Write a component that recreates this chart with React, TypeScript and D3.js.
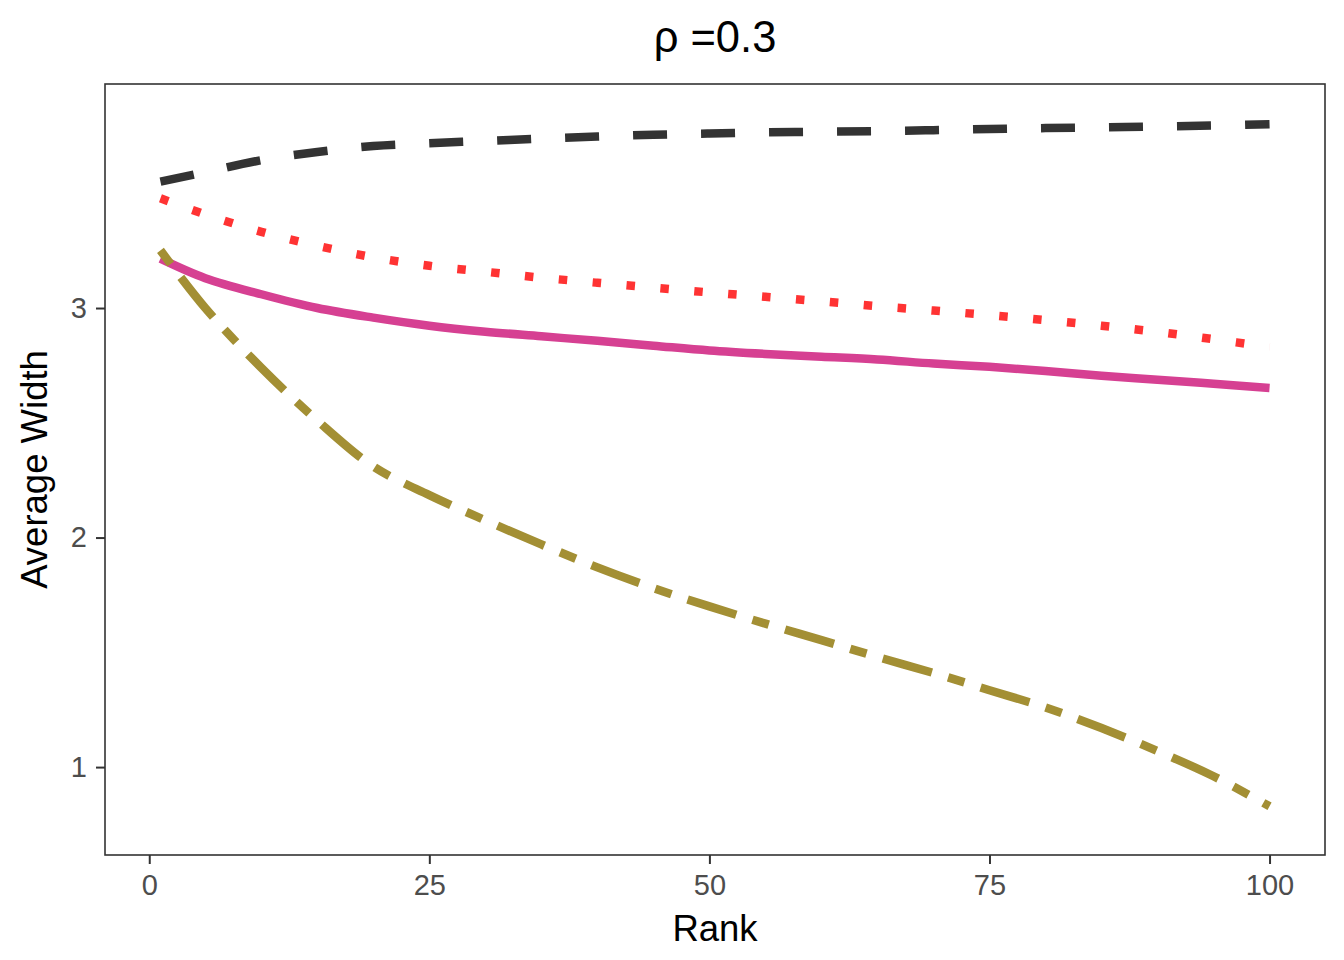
import React, { useEffect, useRef } from 'react';
import * as d3 from 'd3';

// Rank positions at which the curves were read
const ranks = [1, 5, 10, 15, 20, 25, 30, 35, 40, 45, 50, 55, 60, 65, 70, 75, 80, 85, 90, 95, 100];

const blackDashed = [3.551, 3.592, 3.644, 3.68, 3.706, 3.718, 3.728, 3.738, 3.747, 3.755, 3.76, 3.765, 3.768, 3.771, 3.775, 3.78, 3.784, 3.787, 3.791, 3.795, 3.801];
const redDotted = [3.478, 3.408, 3.332, 3.271, 3.221, 3.184, 3.158, 3.132, 3.11, 3.089, 3.068, 3.049, 3.029, 3.008, 2.989, 2.969, 2.947, 2.923, 2.896, 2.864, 2.83];
const magentaSolid = [3.215, 3.13, 3.06, 3.0, 2.958, 2.923, 2.897, 2.877, 2.857, 2.836, 2.815, 2.8, 2.788, 2.776, 2.758, 2.744, 2.726, 2.705, 2.688, 2.67, 2.652];
const oliveTwodash = [3.251, 3.0, 2.74, 2.51, 2.31, 2.185, 2.075, 1.97, 1.87, 1.78, 1.7, 1.625, 1.553, 1.48, 1.41, 1.335, 1.26, 1.17, 1.07, 0.96, 0.829];

const xTicks = [0, 25, 50, 75, 100];
const yTicks = [1, 2, 3];

const series = [
  { name: 'black', values: blackDashed, color: '#333333', dash: '34,34' },
  { name: 'red', values: redDotted, color: '#FF3333', dash: '8.5,25.5' },
  { name: 'magenta', values: magentaSolid, color: '#D64092', dash: null },
  { name: 'olive', values: oliveTwodash, color: '#A38F34', dash: '17,17,51,17' },
];

export default function App() {
  const svgRef = useRef<SVGSVGElement>(null);

  useEffect(() => {
    if (!svgRef.current) return;
    const svg = d3.select(svgRef.current);
    svg.selectAll('*').remove();

    const W = 1344;
    const H = 960;
    const margin = { top: 84, right: 19, bottom: 105, left: 105 };
    const width = W - margin.left - margin.right;
    const height = H - margin.top - margin.bottom;
    const font = '"Liberation Sans", Arial, Helvetica, sans-serif';

    svg.attr('width', W).attr('height', H);
    svg.append('rect').attr('width', W).attr('height', H).attr('fill', '#fff');

    const g = svg.append('g').attr('transform', `translate(${margin.left},${margin.top})`);

    const x = d3.scaleLinear().domain([-3.95, 104.95]).range([0, width]);
    const y = d3.scaleLinear().domain([0.617, 3.976]).range([height, 0]);

    // lines
    const line = d3
      .line<number>()
      .x((_, i) => x(ranks[i]))
      .y((d) => y(d))
      .curve(d3.curveCatmullRom.alpha(0.5));

    series.forEach((s) => {
      g.append('path')
        .datum(s.values)
        .attr('fill', 'none')
        .attr('stroke', s.color)
        .attr('stroke-width', 8.5)
        .attr('stroke-dasharray', s.dash)
        .attr('d', line);
    });

    // panel border
    g.append('rect')
      .attr('width', width)
      .attr('height', height)
      .attr('fill', 'none')
      .attr('stroke', '#333333')
      .attr('stroke-width', 1.6);

    // x axis
    const xAxis = g
      .append('g')
      .attr('transform', `translate(0,${height})`)
      .call(d3.axisBottom(x).tickValues(xTicks).tickSize(9).tickPadding(10).tickFormat(d3.format('d')));
    xAxis.select('.domain').remove();
    xAxis.selectAll('line').attr('stroke', '#333333').attr('stroke-width', 2);
    xAxis
      .selectAll('text')
      .style('font-family', font)
      .style('font-size', '29px')
      .style('fill', '#4D4D4D');

    // y axis
    const yAxis = g
      .append('g')
      .call(d3.axisLeft(y).tickValues(yTicks).tickSize(9).tickPadding(9).tickFormat(d3.format('d')));
    yAxis.select('.domain').remove();
    yAxis.selectAll('line').attr('stroke', '#333333').attr('stroke-width', 2);
    yAxis
      .selectAll('text')
      .style('font-family', font)
      .style('font-size', '29px')
      .style('fill', '#4D4D4D');

    // axis titles
    svg
      .append('text')
      .attr('x', margin.left + width / 2)
      .attr('y', 941)
      .attr('text-anchor', 'middle')
      .style('font-family', font)
      .style('font-size', '36.5px')
      .style('fill', '#000')
      .text('Rank');

    svg
      .append('text')
      .attr('transform', `translate(47,${margin.top + height / 2}) rotate(-90)`)
      .attr('text-anchor', 'middle')
      .style('font-family', font)
      .style('font-size', '36.5px')
      .style('fill', '#000')
      .text('Average Width');

    // title
    svg
      .append('text')
      .attr('x', margin.left + width / 2)
      .attr('y', 52)
      .attr('text-anchor', 'middle')
      .style('font-family', font)
      .style('font-size', '43.5px')
      .style('fill', '#000')
      .text('ρ =0.3');
  }, []);

  return (
    <div style={{ position: 'absolute', left: 0, top: 0 }}>
      <svg ref={svgRef}></svg>
    </div>
  );
}
